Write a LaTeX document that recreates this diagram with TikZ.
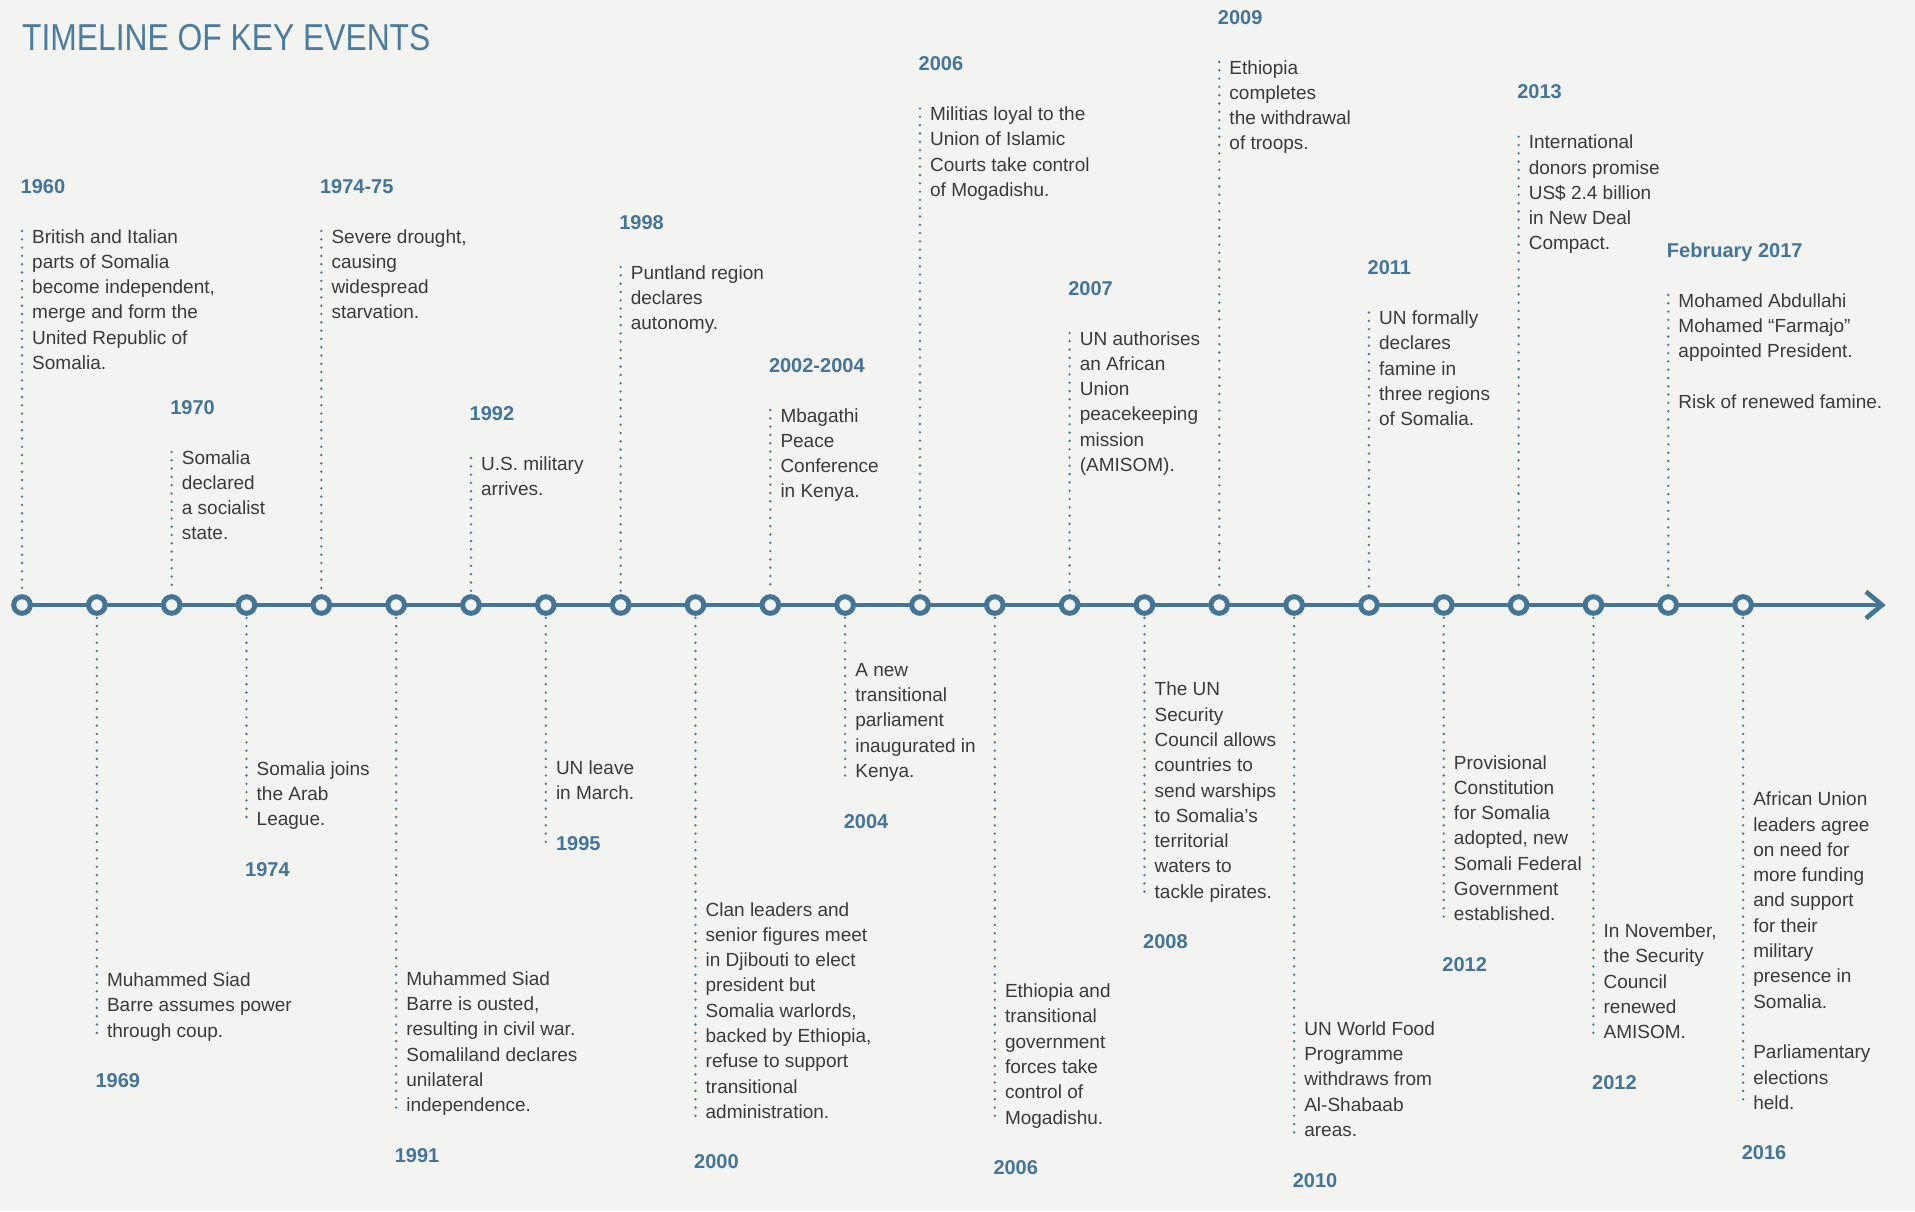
\documentclass[tikz,border=0pt]{standalone}
\usepackage{fontspec}
\setmainfont{Liberation Sans}
\definecolor{bgc}{RGB}{243,243,241}
\definecolor{tlblue}{RGB}{66,117,150}
\definecolor{ttlblue}{RGB}{74,124,158}
\definecolor{txtgray}{RGB}{58,58,58}
\tikzset{
  txt/.style={anchor=base west, inner sep=0pt, text=txtgray, font=\fontsize{19}{25.3}\selectfont},
  yr/.style={anchor=base west, inner sep=0pt, text=tlblue, font=\bfseries\fontsize{20}{24}\selectfont},
  dots/.style={draw=tlblue, line width=2.6pt, line cap=round, dash pattern=on 0pt off 8.3pt, shorten <=2pt, shorten >=2pt},
  ring/.style={circle, draw=tlblue, fill=bgc, line width=5pt, minimum size=16.6pt, inner sep=0pt},
  axis/.style={draw=tlblue, line width=4.7pt}
}
\newcommand\evabove[4]{%
  \node[txt] (t#1) at ({22+74.83*#1+10}, #2) {\begin{tabular}[t]{@{}l@{}}#4\end{tabular}};
  \node[yr] (y#1) at ({22+74.83*#1-1.5}, {#2-50}) {#3};
  \coordinate (d#1) at ({22+74.83*#1}, {#2-14});
  \draw[dots] (d#1) -- (c#1.north);
}
\newcommand\evbelow[5]{%
  \node[txt] (t#1) at ({22+74.83*#1+10}, #2) {\begin{tabular}[t]{@{}l@{}}#5\end{tabular}};
  \coordinate (d#1) at ({22+74.83*#1}, {#2+(#3-1)*25.3});
  \node[yr] (y#1) at ({22+74.83*#1-1.5}, {#2+(#3-1)*25.3+50.5}) {#4};
  \draw[dots] (c#1.south) -- (d#1);
}
\begin{document}
\begin{tikzpicture}[x=1pt, y=-1pt]
\fill[bgc] (0,0) rectangle (1915,1211);
\useasboundingbox (0,0) rectangle (1915,1211);
\node[anchor=base west, inner sep=0pt, text=ttlblue, font=\fontsize{37.5}{40}\selectfont] (title) at (22,50) {\scalebox{0.848}[1]{TIMELINE OF KEY EVENTS}};
% axis
\coordinate (start) at (22,605);
\coordinate (tip) at (1882,605);
\coordinate (armup) at (1866,591.7);
\coordinate (armdn) at (1866,618.3);
\draw[axis] (start) -- (tip);
\draw[axis, line join=miter] (armup) -- (tip) -- (armdn);
\foreach \i in {0,...,23} \node[ring] (c\i) at ({22+74.83*\i},605) {};
% above
\evabove{0}{243}{1960}{British and Italian\\parts of Somalia\\become independent,\\merge and form the\\United Republic of\\Somalia.}
\evabove{2}{464}{1970}{Somalia\\declared\\a socialist\\state.}
\evabove{4}{243}{1974-75}{Severe drought,\\causing\\widespread\\starvation.}
\evabove{6}{470}{1992}{U.S. military\\arrives.}
\evabove{8}{279}{1998}{Puntland region\\declares\\autonomy.}
\evabove{10}{422}{2002-2004}{Mbagathi\\Peace\\Conference\\in Kenya.}
\evabove{12}{120.6}{2006}{Militias loyal to the\\Union of Islamic\\Courts take control\\of Mogadishu.}
\evabove{14}{345}{2007}{UN authorises\\an African\\Union\\peacekeeping\\mission\\(AMISOM).}
\evabove{16}{74}{2009}{Ethiopia\\completes\\the withdrawal\\of troops.}
\evabove{18}{324.5}{2011}{UN formally\\declares\\famine in\\three regions\\of Somalia.}
\evabove{20}{148.7}{2013}{International\\donors promise\\US\$ 2.4 billion\\in New Deal\\Compact.}
\evabove{22}{307}{February 2017}{Mohamed Abdullahi\\Mohamed “Farmajo”\\appointed President.\\ \\Risk of renewed famine.}
% below
\evbelow{1}{986.5}{3}{1969}{Muhammed Siad\\Barre assumes power\\through coup.}
\evbelow{3}{775}{3}{1974}{Somalia joins\\the Arab\\League.}
\evbelow{5}{985.3}{6}{1991}{Muhammed Siad\\Barre is ousted,\\resulting in civil war.\\Somaliland declares\\unilateral\\independence.}
% 1995: year sits beside the dotted line, which runs down to it
\node[txt] (t7) at ({22+74.83*7+10}, 774) {\begin{tabular}[t]{@{}l@{}}UN leave\\in March.\end{tabular}};
\node[yr] (y7) at ({22+74.83*7+10}, 850) {1995};
\coordinate (d7) at ({22+74.83*7}, 850);
\draw[dots] (c7.south) -- (d7);
\evbelow{9}{916}{9}{2000}{Clan leaders and\\senior figures meet\\in Djibouti to elect\\president but\\Somalia warlords,\\backed by Ethiopia,\\refuse to support\\transitional\\administration.}
\evbelow{11}{676.3}{5}{2004}{A new\\transitional\\parliament\\inaugurated in\\Kenya.}
\evbelow{13}{997.5}{6}{2006}{Ethiopia and\\transitional\\government\\forces take\\control of\\Mogadishu.}
\evbelow{15}{695.8}{9}{2008}{The UN\\Security\\Council allows\\countries to\\send warships\\to Somalia’s\\territorial\\waters to\\tackle pirates.}
\evbelow{17}{1035.3}{5}{2010}{UN World Food\\Programme\\withdraws from\\Al-Shabaab\\areas.}
\evbelow{19}{769}{7}{2012}{Provisional\\Constitution\\for Somalia\\adopted, new\\Somali Federal\\Government\\established.}
\evbelow{21}{937.6}{5}{2012}{In November,\\the Security\\Council\\renewed\\AMISOM.}
\evbelow{23}{805.7}{13}{2016}{African Union\\leaders agree\\on need for\\more funding\\and support\\for their\\military\\presence in\\Somalia.\\ \\Parliamentary\\elections\\held.}
\end{tikzpicture}
\end{document}
